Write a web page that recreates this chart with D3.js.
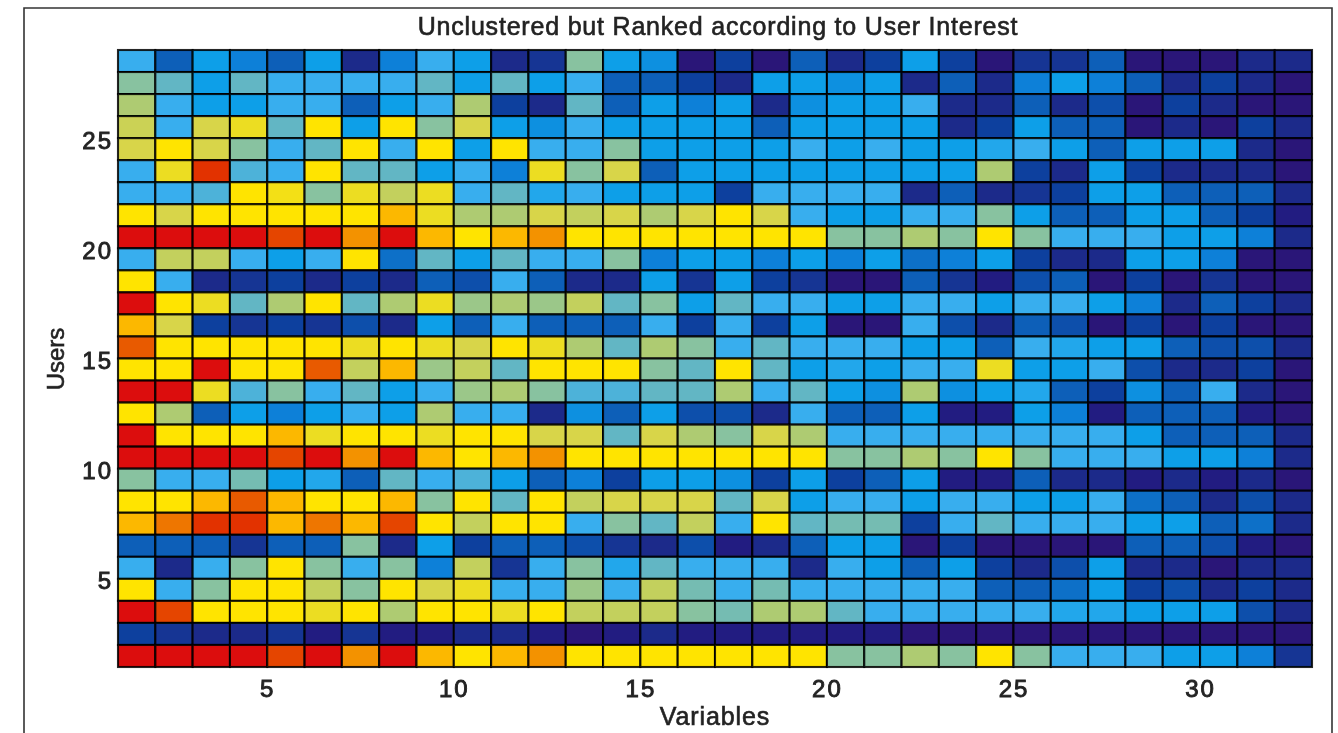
<!DOCTYPE html>
<html>
<head>
<meta charset="utf-8">
<script src="https://cdn.jsdelivr.net/npm/d3@7/dist/d3.min.js"></script>
<style>
html,body{margin:0;padding:0;background:#fff;overflow:hidden}
svg{display:block}
text{font-family:"Liberation Sans",Arial,sans-serif;fill:#222}
</style>
</head>
<body>
<svg id="chart" width="1338" height="733"></svg>
<script>
const titleText = "Unclustered but Ranked according to User Interest";
const xLabel = "Variables";
const yLabel = "Users";
const xTicks = [5,10,15,20,25,30];
const yTicks = [5,10,15,20,25];
const variableCount = 32;
const userCount = 28;

// rating level per user (from user 28 down to user 1), per variable 1..32
const user28 = [6,3,5,4,3,5,1,4,6,5,1,1.5,8,5,4.5,0, 2,0,3,1,2,5,2,0,1.5,1.5,3,0,0,0,1,1];
const user27 = [8,7,5,7,6,6,6,6,7,5,7,5,6,3,3,2, 1,5,5,4.5,5,1,3,1,4,5,4,3,1,2,1,0];
const user26 = [9,6,5,5,6,6,3,5,6,9,2,1,7,3,5,4, 5,1,4.5,5,5,6,1,1,3,1,2.5,0,2,1,0,0];
const user25 = [9.7,6,10,10.5,7,11,5,11,8,10,5,4.5,6,5,5,5, 5,3,5,5,5,5,1,2,5,3,3,0,1,0,2,1];
const user24 = [10,11,10,8,6,7,11,6,11,5,11,6,6,8,5,5, 5,5,6,5,6,5,5,5.5,6,5,3,5,5,5,1,0];
const user23 = [6,10.5,15,6.5,6,11,7,7,5,6,4,10.5,8,10,3,5, 5,5,5,5,5,5,5,9,2,1,5,2,1,1,1,0];
const user22 = [6,6,6.5,11,10.7,8,10.5,9.5,10.5,6,7,5.5,6,5,5,5, 2,6,6,6,6,1,3,1,1.5,2,5,5,3,3,3,1];
const user21 = [11,10,11,11,11,11,11,12,10.5,9,9,10,9.5,10,9,10, 11,10,6,5,5,6,6,8,5,3,3,5,5,3,2,0.5];
const user20 = [16,16,16,16,14.5,16,13,16,12,11,12,13,11,11,11,11, 11,11,11,8,8,9,8,11,8,6,6,6,5,5,4,1];
const user19 = [6,9.5,9.5,6,5,6,11,3.5,7,5,7,6,6,8,4,5, 5,4,5,4,5,3.5,4,5,2,1,1,5,5,4,0,0];
const user18 = [11,6,1,1.5,2,1,2,1,3,2.5,6,3,1,1,5,1.5, 5,2,1.5,0,0,3,1.5,0.5,2.5,3,0,2,0,1.5,0,0];
const user17 = [16,11,10.5,7,9,11,7,9,10.5,8.5,9,8.5,9.5,7,8,5, 7,6,6,5,5,6,6,5,6,6,5,4,1,3,2,1];
const user16 = [12,10,2,1.5,2,1.5,2.5,1,5,3,6,3,3,3,6,2, 6,2,5,0,0,6,2.5,1,3,2.5,0,2,0,2,0,0];
const user15 = [14,11,11,11,11,11,10.5,11,10.5,10,11,10.5,9,7,9,8, 6,7,6,6,6,5,5,3,6,5.5,5,5,3,2.5,2.5,1];
const user14 = [11,11,16,11,11,14,9.5,12,8.5,9.5,7,11,11,11,8,7, 11,7,5,5.5,5,6,6,10.5,5,5,6,2.5,1,1,2,0];
const user13 = [16,16,10.5,6.5,8,6,7,5,6,8.5,9,8,6.5,6.5,7,7, 9,6,7,5,4.5,9,4.5,5,5.5,3,2,4.5,3,6,1,0];
const user12 = [11,9,3,5,4,5,6,5,9,6,6,1,4.5,3,5,2.5, 2.5,1,6,3,3,5,0.5,0.5,5,4,0.5,3,3,3,0.5,0];
const user11 = [16,11,11,11,12,10.5,11,11,10.5,11,11,10,10,7,10,9, 8,10,9,6,6,6,6,6,6,6,6,5,3,3,3,1];
const user10 = [16,16,16,16,14.5,16,13,16,12,11,12,13,11,11,11,11, 11,11,11,8,8,9,8,11,8,6,6,6,5,5,4,1];
const user9  = [8,6,6,7.5,5,5.5,3,7,6,6.5,5,3,4,2,5,5, 4.5,2,5,2,3,5,0.5,0.5,3,1,1,0.5,1,0.5,1,0];
const user8  = [11,11,12,14,12,11,11,12,8,11,7,11,9.5,10,10,10, 7,10,5,6,6,5,6,6,5,5,6,3.5,3,1,2.5,1];
const user7  = [12,13.5,15,15,12,13.5,12,14.5,11,9.5,11,11,6,8,7,9.5, 6,11,7,7.5,7.5,2,6,7,6,6,6,5,5,3,3.5,1];
const user6  = [3,3,3,1.5,3,3,8,1,5,2,3,3,2.5,1.5,1,2.5, 0.5,1,3,5,5,0,2,0,0,0,0,3,3,2.5,0.5,0];
const user5  = [6,1,6,8,11,8,6,8,4,9.5,1.5,6,8,5.5,7,6, 6,6,1,6,5,3,5,2,1,2.5,5,1,1,0,1,1];
const user4  = [11,6,8,11,11,9.5,8,11,10,10.5,6,6,8.5,6,9.5,7.5, 6,7.5,6,6,6,6,6,3,3,3.5,5,2,2.5,1,2,1];
const user3  = [16,14.5,11,11,11,10.5,11,9,11,11,10.5,11,9.5,9.5,9.5,8, 7.5,9,9,7,6,6,6,6,6,5.5,5.5,5,5,5,2.5,1];
const user2  = [2,1.5,1,1,1.5,0.5,1.5,0.5,0.5,1,1,0.5,0,0.5,1,0.5, 0.5,0.5,0.5,0.5,0.5,0,0,0,0,0,0,0,0,0,0,0];
const user1  = [16,16,16,16,14.5,16,13,16,12,11,12,13,11,11,11,11, 11,11,11,8,8,9,8,11,8,6,6,6,5,5,4,1.5];

const usersTopDown = [user28,user27,user26,user25,user24,user23,user22,user21,user20,user19,user18,user17,user16,user15,user14,user13,user12,user11,user10,user9,user8,user7,user6,user5,user4,user3,user2,user1];

const colourLevels = [0,1,2,3,4,5,6,7,8,9,10,11,12,13,14,15,16];
const colourStops = ["#2a1478","#1a2a8a","#0d409e","#0a5fb8","#0a80d8","#0a9fe8","#38aeee","#62b6c4","#88c2a0","#aecb72","#d8d548","#ffe400","#fcb800","#f39200","#e85a00","#e23000","#dc0a0a"];

const svg = d3.select("#chart");
const defs = svg.append("defs");
defs.append("filter").attr("id","soft").attr("x","-2%").attr("y","-2%").attr("width","104%").attr("height","104%")
  .append("feGaussianBlur").attr("stdDeviation",0.7);
defs.append("filter").attr("id","softText").attr("x","-10%").attr("y","-30%").attr("width","120%").attr("height","160%")
  .append("feGaussianBlur").attr("stdDeviation",0.6);

const x = d3.scaleLinear().domain([1,variableCount+1]).range([118,1312]);
const y = d3.scaleLinear().domain([1,userCount+1]).range([667,50]);
const colour = d3.scaleLinear().domain(colourLevels).range(colourStops).interpolate(d3.interpolateRgb);

// page frame
const frame = d3.path();
frame.moveTo(24,733); frame.lineTo(24,8); frame.lineTo(1332,8); frame.lineTo(1332,733);
svg.append("path").attr("d",frame.toString()).attr("fill","none").attr("stroke","#333").attr("stroke-width",1.6);

// cells
const cells = usersTopDown.flatMap((row,i)=>row.map((v,j)=>({user:userCount-i,variable:j+1,value:v})));
svg.append("g").attr("filter","url(#soft)")
  .selectAll("rect").data(cells).join("rect")
  .attr("x",d=>x(d.variable))
  .attr("y",d=>y(d.user+1))
  .attr("width",d=>x(d.variable+1)-x(d.variable))
  .attr("height",d=>y(d.user)-y(d.user+1))
  .attr("fill",d=>colour(d.value))
  .attr("stroke","#000")
  .attr("stroke-opacity",0.85)
  .attr("stroke-width",2.1);

// axes
const xAxis = d3.axisBottom(x).tickValues(xTicks).tickSize(0).tickPadding(13);
const yAxis = d3.axisLeft(y).tickValues(yTicks).tickSize(0).tickPadding(5);
const gx = svg.append("g").attr("transform","translate(0,667)").call(xAxis);
const gy = svg.append("g").attr("transform","translate(118,0)").call(yAxis);
[gx,gy].forEach(g=>{
  g.select(".domain").remove();
  g.selectAll("text").attr("font-family",null).style("font-size","24px").style("letter-spacing","2px").style("stroke","#222").style("stroke-width",0.9).attr("filter","url(#softText)");
});
gy.selectAll("text").attr("dy","0.42em");

svg.append("text").attr("x",718).attr("y",35).attr("text-anchor","middle")
  .style("font-size","25px").style("letter-spacing","0.8px").style("stroke","#222").style("stroke-width",0.6).attr("filter","url(#softText)").text(titleText);
svg.append("text").attr("x",715).attr("y",725).attr("text-anchor","middle")
  .style("font-size","25px").style("letter-spacing","0.9px").style("stroke","#222").style("stroke-width",0.6).attr("filter","url(#softText)").text(xLabel);
svg.append("text").attr("transform","translate(64,359) rotate(-90)").attr("text-anchor","middle")
  .style("font-size","24px").style("stroke","#222").style("stroke-width",0.6).attr("filter","url(#softText)").text(yLabel);
</script>
</body>
</html>
